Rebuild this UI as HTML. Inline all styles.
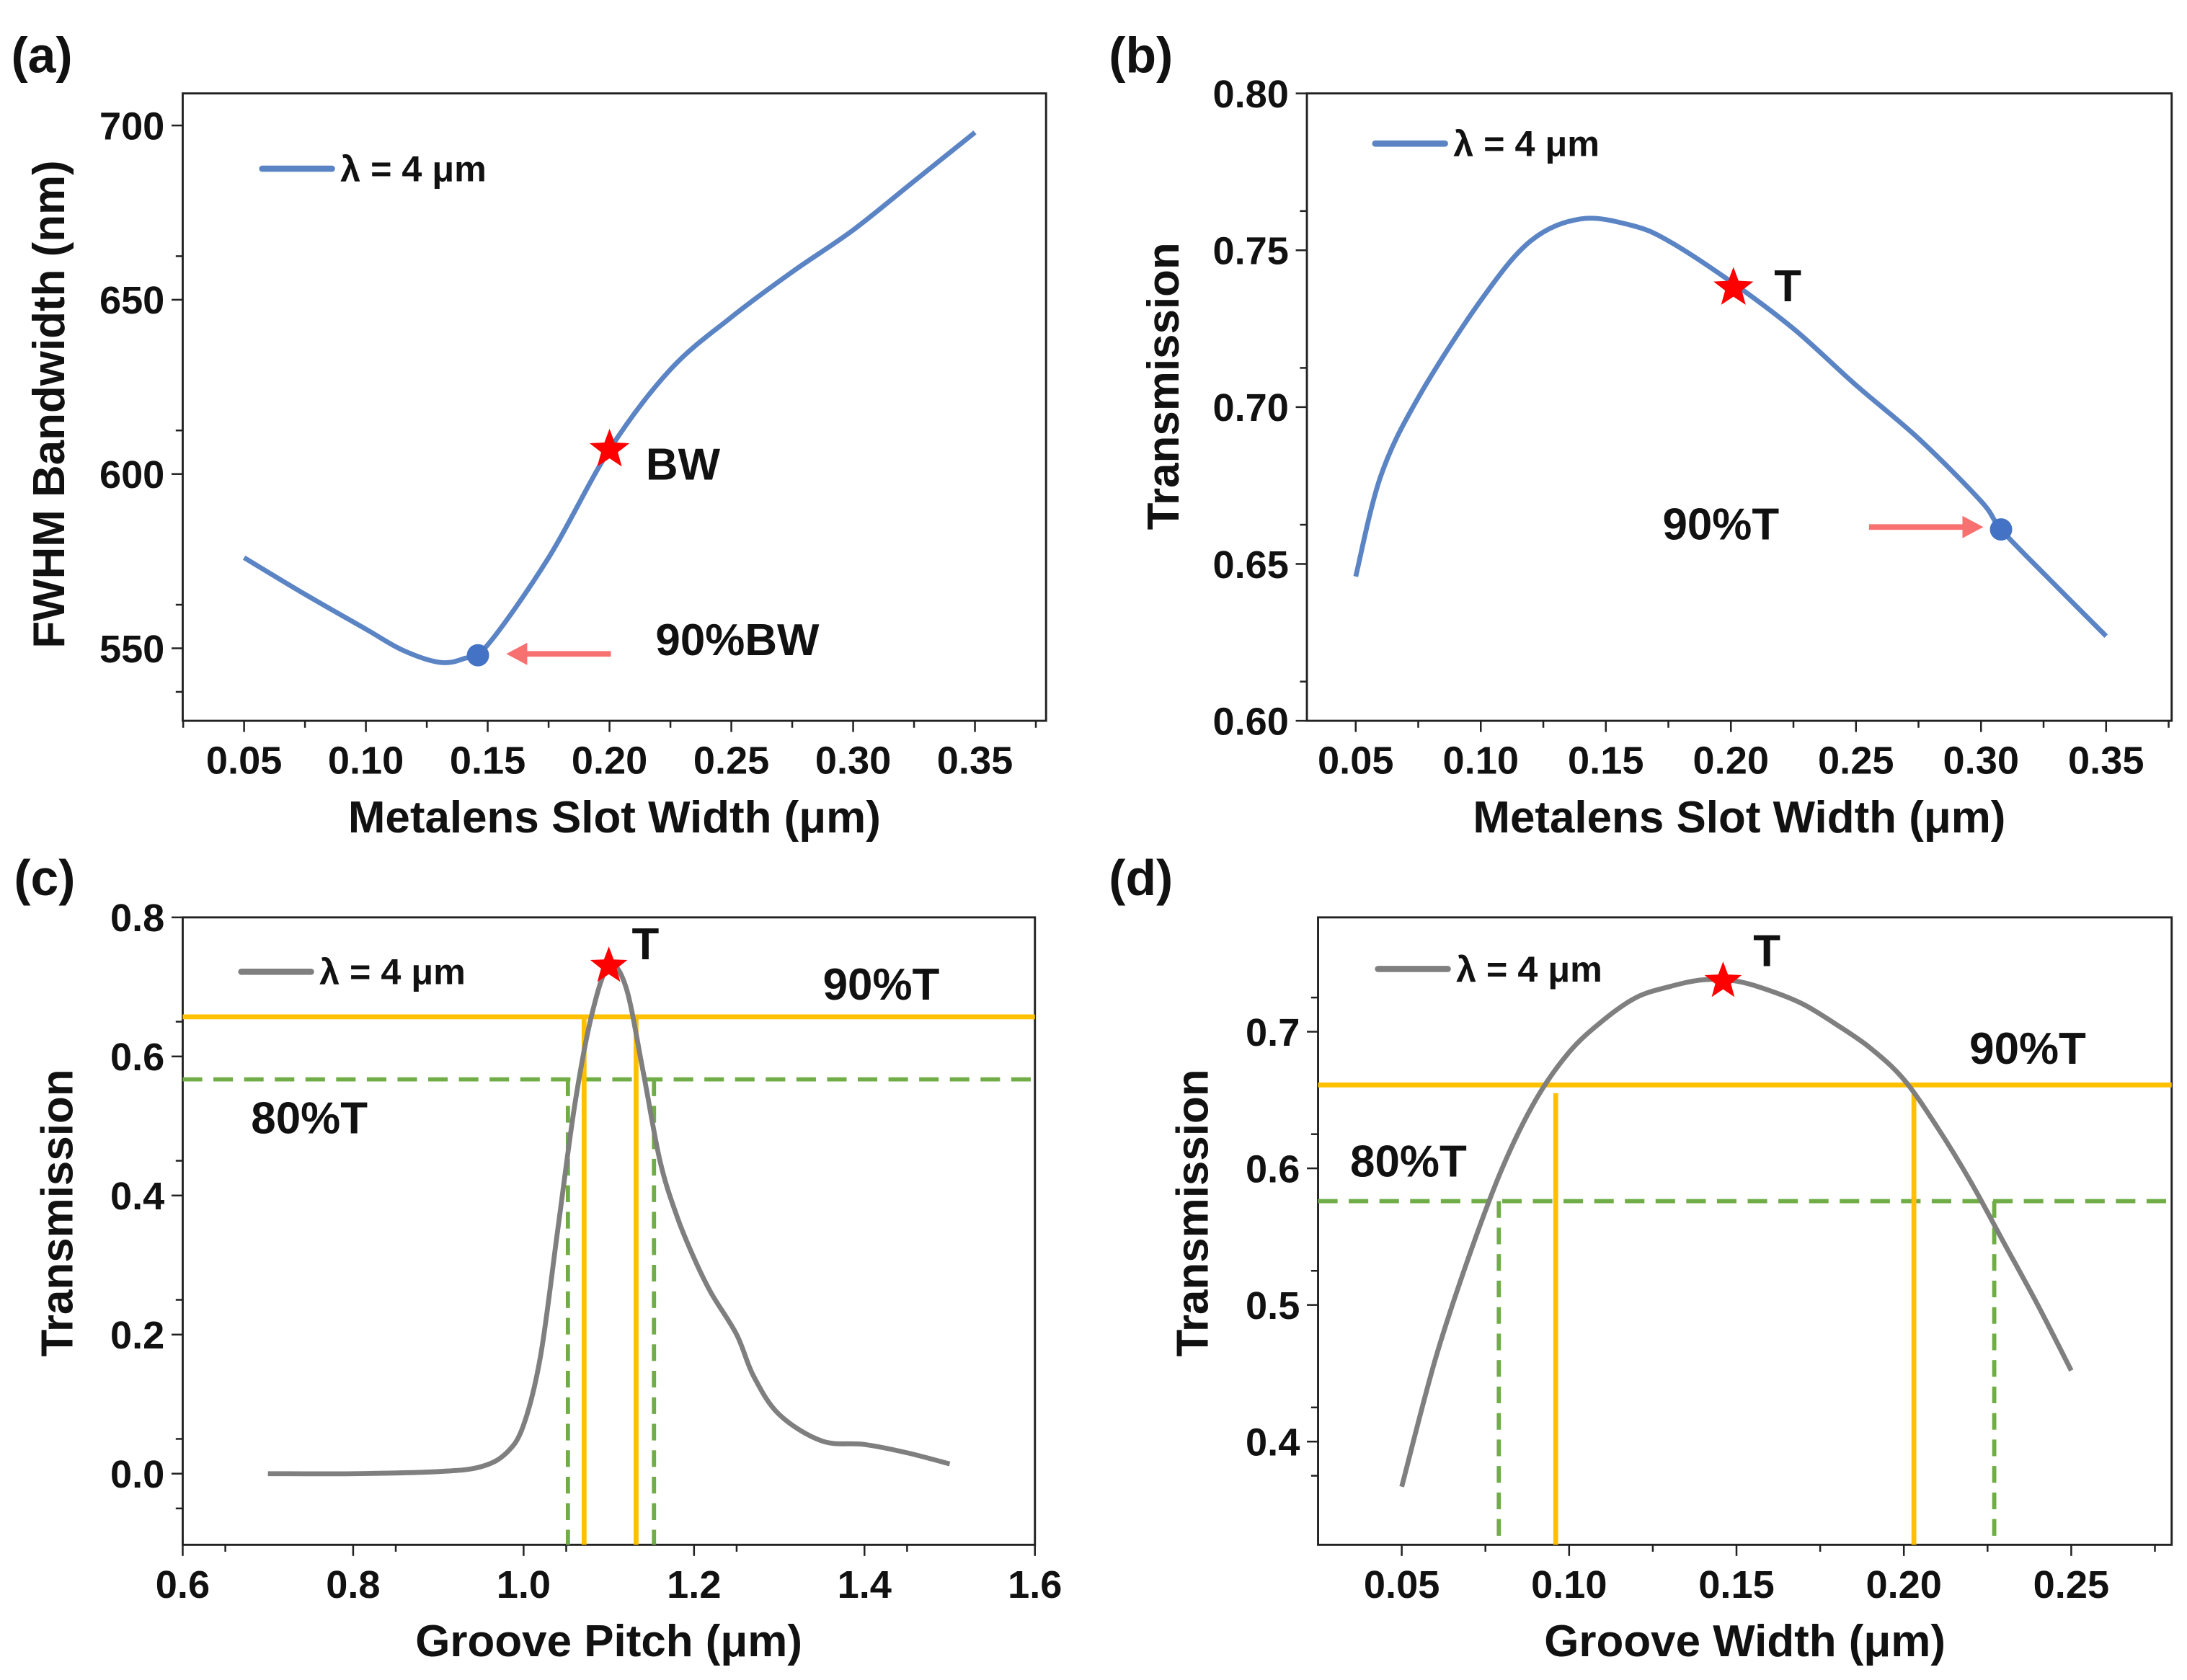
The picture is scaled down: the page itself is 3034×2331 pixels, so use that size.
<!DOCTYPE html>
<html><head><meta charset="utf-8"><style>
html,body{margin:0;padding:0;background:#fff}
svg{display:block}
text{font-family:"Liberation Sans",Arial,sans-serif;font-weight:bold;fill:#111}
</style></head><body>
<svg id="fig" width="3034" height="2331" viewBox="0 0 1568 1205" preserveAspectRatio="none" xmlns="http://www.w3.org/2000/svg"></svg>
<script>
// Panel (a)
const aX=[0.05,0.075,0.10,0.115,0.13,0.14,0.15,0.175,0.20,0.225,0.25,0.275,0.30,0.325,0.35];
const aY=[576,565.5,555.5,549.5,546,547,551,576,607,630,645,658,670,684,698];
// Panel (b)
const bX=[0.05,0.06,0.075,0.10,0.12,0.14,0.16,0.175,0.20,0.225,0.25,0.275,0.30,0.308,0.325,0.35];
const bY=[0.646,0.678,0.703,0.734,0.753,0.760,0.758,0.753,0.740,0.725,0.707,0.690,0.670,0.661,0.647,0.627];
// Panel (c)
const cX=[0.7,0.8,0.9,0.95,0.98,1.0,1.02,1.04,1.06,1.08,1.10,1.12,1.14,1.16,1.18,1.2,1.22,1.25,1.27,1.3,1.35,1.4,1.45,1.5];
const cY=[0.0,0.0,0.003,0.01,0.03,0.07,0.17,0.35,0.53,0.66,0.73,0.70,0.58,0.45,0.37,0.31,0.26,0.2,0.14,0.085,0.047,0.042,0.03,0.014];
// Panel (d)
const dX=[0.05,0.06,0.07,0.08,0.09,0.10,0.11,0.12,0.13,0.14,0.15,0.16,0.17,0.18,0.19,0.20,0.21,0.22,0.23,0.24,0.25];
const dY=[0.367,0.46,0.535,0.60,0.65,0.685,0.708,0.725,0.733,0.738,0.737,0.73,0.72,0.705,0.688,0.665,0.63,0.59,0.545,0.50,0.452];
const aXT=["0.05","0.10","0.15","0.20","0.25","0.30","0.35"], aYT=["550","600","650","700"];
const bXT=aXT, bYT=["0.60","0.65","0.70","0.75","0.80"];
const cXT=["0.6","0.8","1.0","1.2","1.4","1.6"], cYT=["0.0","0.2","0.4","0.6","0.8"];
const dXT=["0.05","0.10","0.15","0.20","0.25"], dYT=["0.4","0.5","0.6","0.7"];

const NS="http://www.w3.org/2000/svg", svg=document.getElementById('fig');
function mk(tag,at,parent,txt){const e=document.createElementNS(NS,tag);for(const k in at)e.setAttribute(k,at[k]);if(txt!==undefined)e.textContent=txt;(parent||svg).appendChild(e);return e;}
function lin(d0,d1,r0,r1){return v=>r0+(v-d0)*(r1-r0)/(d1-d0);}
function smooth(p){let d="M"+p[0][0]+","+p[0][1];for(let i=0;i<p.length-1;i++){const p0=p[i-1]||p[i],p1=p[i],p2=p[i+1],p3=p[i+2]||p2;
d+=" C"+(p1[0]+(p2[0]-p0[0])/6)+","+(p1[1]+(p2[1]-p0[1])/6)+" "+(p2[0]-(p3[0]-p1[0])/6)+","+(p2[1]-(p3[1]-p1[1])/6)+" "+p2[0]+","+p2[1];}return d;}
function star(g,cx,cy,r){let pts=[];for(let i=0;i<10;i++){const rr=i%2?r*0.42:r,a=-Math.PI/2+i*Math.PI/5;pts.push((cx+rr*Math.cos(a)).toFixed(1)+","+(cy+rr*Math.sin(a)).toFixed(1));}
const s=mk('polygon',{points:pts.join(' '),fill:'#ff0000'},g);return s;}
function dom(p0,v0,p1,v1,P){return v0+(P-p0)*(v1-v0)/(p1-p0);}

function panel(o){
 const g=mk('g',{});
 const X=lin(o.xd[0],o.xd[1],o.L,o.R),Y=lin(o.yd[0],o.yd[1],o.B,o.T);
 const lab=mk('text',{x:o.lx,y:o.ly,'font-size':36},g,o.letter);
 const tg=mk('g',{stroke:'#222','stroke-width':1.3},g);
 o.xt.forEach((t,i)=>{const v=parseFloat(t),x=X(v);mk('line',{x1:x,x2:x,y1:o.B,y2:o.B+8},tg);
  const tl=mk('text',{x:x,y:o.B+38,'font-size':28,'text-anchor':'middle',stroke:'none'},g,t);
  if(i<o.xt.length-1){const xm=X(v+o.xs/2);mk('line',{x1:xm,x2:xm,y1:o.B,y2:o.B+5},tg);}
  if(i==0&&X(v-o.xs/2)>o.L){const xm=X(v-o.xs/2);mk('line',{x1:xm,x2:xm,y1:o.B,y2:o.B+5},tg);}
  if(i==o.xt.length-1&&X(v+o.xs/2)<=o.R+1){const xm=X(v+o.xs/2);mk('line',{x1:xm,x2:xm,y1:o.B,y2:o.B+5},tg);}
 });
 o.yt.forEach((t,i)=>{const v=parseFloat(t),y=Y(v);mk('line',{x1:o.L-8,x2:o.L,y1:y,y2:y},tg);
  const tl=mk('text',{x:o.L-13,y:y+10,'font-size':28,'text-anchor':'end',stroke:'none'},g,t);
  [-0.5,0.5].forEach(f=>{const ym=Y(v+f*o.ys);if(ym<=o.B+0.5&&ym>=o.T-0.5&&!(f<0&&i>0))mk('line',{x1:o.L-5,x2:o.L,y1:ym,y2:ym},tg);});
 });
 mk('rect',{x:o.L,y:o.T,width:o.R-o.L,height:o.B-o.T,fill:'none',stroke:'#222','stroke-width':1.5},g);
 const xt=mk('text',{x:(o.L+o.R)/2,y:o.B+80,'font-size':32,'text-anchor':'middle'},g,o.xtitle);
 const yt=mk('text',{x:0,y:0,'font-size':32,'text-anchor':'middle',transform:`translate(${o.ytx},${o.yty}) rotate(-90)`},g,o.ytitle);
 const lg=mk('g',{},g);
 mk('line',{x1:o.leg[0],x2:o.leg[0]+50,y1:o.leg[1],y2:o.leg[1],stroke:o.color,'stroke-width':4.5,'stroke-linecap':'round'},lg);
 mk('text',{x:o.leg[0]+56,y:o.leg[1]+9,'font-size':26},lg,'λ = 4 μm');
 if(o.extra)o.extra(g,X,Y);
 const pts=o.xs_.map((x,i)=>[X(x),Y(o.ys_[i])]);
 const c=mk('path',{d:smooth(pts),fill:'none',stroke:o.color,'stroke-width':3.5,'stroke-linejoin':'round'},g);
 if(o.after)o.after(g,X,Y);
}
function txt(g,x,y,s,name,fs){const t=mk('text',{x:x,y:y,'font-size':fs||32},g,s);}
function arrow(g,x1,x2,y){const a=mk('g',{},g);
 const dir=Math.sign(x2-x1);mk('line',{x1:x1,x2:x2-dir*12,y1:y,y2:y,stroke:'#f87171','stroke-width':4},a);
 mk('polygon',{points:`${x2},${y} ${x2-dir*15},${y-8} ${x2-dir*15},${y+8}`,fill:'#f87171'},a);}
function dot(g,x,y){const c=mk('circle',{cx:x,cy:y,r:8,fill:'#4472c4'},g);}
function guides(g,X,Y,o){const L=o.L,R=o.R,B=o.B;
 const h9=mk('line',{x1:L,x2:R,y1:Y(o.t9),y2:Y(o.t9),stroke:'#ffc000','stroke-width':3.5},g);
 const h8=mk('line',{x1:L,x2:R,y1:Y(o.t8),y2:Y(o.t8),stroke:'#70ad47','stroke-width':3,'stroke-dasharray':'14,8'},g);
 o.v9.forEach(v=>{const l=mk('line',{x1:X(v),x2:X(v),y1:Y(o.v9top),y2:B,stroke:'#ffc000','stroke-width':3.5},g);});
 o.v8.forEach(v=>{const l=mk('line',{x1:X(v),x2:X(v),y1:Y(o.t8),y2:B,stroke:'#70ad47','stroke-width':3,'stroke-dasharray':'12,7'},g);});
}

panel({name:'panel-a',letter:'(a)',lx:8,ly:52,L:131,R:750,T:67,B:517,
 xd:[dom(175,0.05,699,0.35,131),dom(175,0.05,699,0.35,750)],yd:[dom(465,550,90,700,517),dom(465,550,90,700,67)],
 xs:0.05,ys:25,xt:aXT,yt:aYT,xs_:aX,ys_:aY,color:'#5b84c4',
 xtitle:'Metalens Slot Width (μm)',ytitle:'FWHM Bandwidth (nm)',ytx:46,yty:290,leg:[188,121],
 after:(g,X,Y)=>{star(g,X(0.2),Y(607),15);dot(g,X(0.146),Y(548));arrow(g,438,363,469);
  txt(g,463,344,'BW','bw-label');txt(g,470,470,'90%BW','bw90-label');}});
panel({name:'panel-b',letter:'(b)',lx:795,ly:52,L:937,R:1557,T:67,B:517,
 xd:[dom(972,0.05,1510,0.35,937),dom(972,0.05,1510,0.35,1557)],yd:[0.60,0.80],
 xs:0.05,ys:0.025,xt:bXT,yt:bYT,xs_:bX,ys_:bY,color:'#5b84c4',
 xtitle:'Metalens Slot Width (μm)',ytitle:'Transmission',ytx:845,yty:277,leg:[986,103],
 after:(g,X,Y)=>{star(g,X(0.201),Y(0.738),15);dot(g,X(0.308),Y(0.661));arrow(g,1340,1422,378);
  txt(g,1272,216,'T','t-label');txt(g,1192,387,'90%T','t90-label');}});
panel({name:'panel-c',letter:'(c)',lx:10,ly:642,L:131,R:742,T:658,B:1108,
 xd:[0.6,1.6],yd:[dom(1057,0,658,0.8,1108),0.8],
 xs:0.1,ys:0.1,xt:cXT,yt:cYT,xs_:cX,ys_:cY,color:'#7f7f7f',
 xtitle:'Groove Pitch (μm)',ytitle:'Transmission',ytx:52,yty:870,leg:[173,697],
 extra:(g,X,Y)=>guides(g,X,Y,{L:131,R:742,B:1108,t9:0.657,t8:0.567,v9:[1.071,1.132],v9top:0.657,v8:[1.052,1.153]}),
 after:(g,X,Y)=>{star(g,X(1.10),Y(0.73),14);txt(g,453,688,'T','t-label');txt(g,590,717,'90%T','t90-label');txt(g,180,813,'80%T','t80-label');}});
panel({name:'panel-d',letter:'(d)',lx:795,ly:642,L:945,R:1557,T:658,B:1108,
 xd:[dom(1005,0.05,1485,0.25,945),dom(1005,0.05,1485,0.25,1557)],yd:[dom(1034,0.4,740,0.7,1108),dom(1034,0.4,740,0.7,658)],
 xs:0.05,ys:0.05,xt:dXT,yt:dYT,xs_:dX,ys_:dY,color:'#7f7f7f',
 xtitle:'Groove Width (μm)',ytitle:'Transmission',ytx:866,yty:870,leg:[988,695],
 extra:(g,X,Y)=>guides(g,X,Y,{L:945,R:1557,B:1108,t9:0.661,t8:0.576,v9:[0.096,0.203],v9top:0.655,v8:[0.079,0.227]}),
 after:(g,X,Y)=>{star(g,X(0.146),Y(0.737),14);txt(g,1257,693,'T','t-label');txt(g,1412,763,'90%T','t90-label');txt(g,968,844,'80%T','t80-label');}});
</script>
</body></html>
